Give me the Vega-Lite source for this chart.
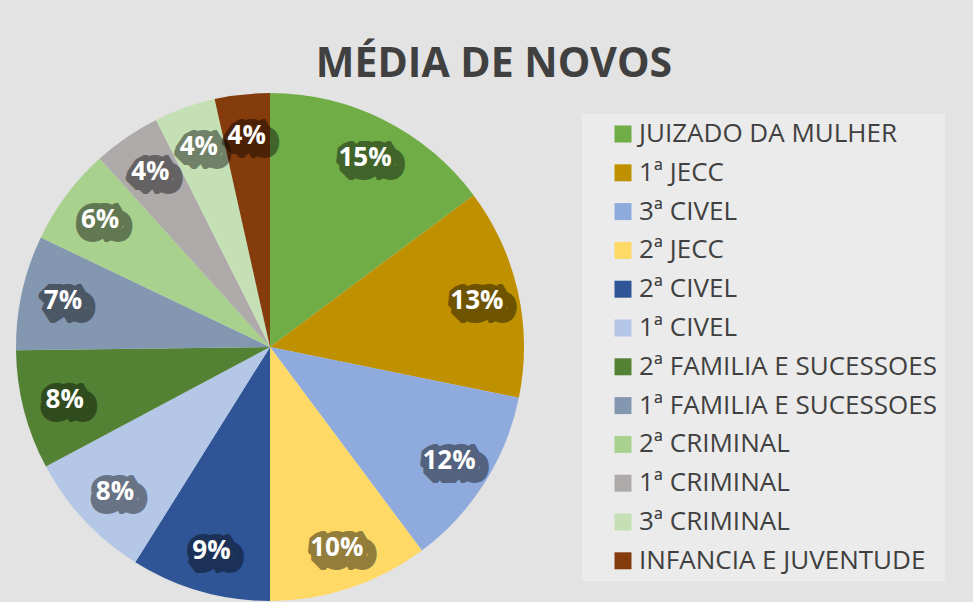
{
  "$schema": "https://vega.github.io/schema/vega-lite/v6.json",
  "width": 508,
  "height": 508,
  "autosize": {"type": "none"},
  "padding": {"left": 16, "top": 93, "right": 449, "bottom": 1},
  "background": "#e3e3e3",
  "title": {
    "text": "MÉDIA DE NOVOS",
    "font": "Open Sans",
    "fontWeight": "bold",
    "fontSize": 41,
    "color": "#404040",
    "anchor": "middle",
    "frame": "group",
    "baseline": "alphabetic",
    "offset": -25,
    "dx": 224
  },
  "data": {
    "values": [
      {"vara": "JUIZADO DA MULHER", "share": 0.148},
      {"vara": "1ª JECC", "share": 0.134},
      {"vara": "3ª CIVEL", "share": 0.116},
      {"vara": "2ª JECC", "share": 0.102},
      {"vara": "2ª CIVEL", "share": 0.089},
      {"vara": "1ª CIVEL", "share": 0.083},
      {"vara": "2ª FAMILIA E SUCESSOES", "share": 0.076},
      {"vara": "1ª FAMILIA E SUCESSOES", "share": 0.073},
      {"vara": "2ª CRIMINAL", "share": 0.062},
      {"vara": "1ª CRIMINAL", "share": 0.043},
      {"vara": "3ª CRIMINAL", "share": 0.039},
      {"vara": "INFANCIA E JUVENTUDE", "share": 0.035}
    ]
  },
  "encoding": {
    "theta": {"field": "share", "type": "quantitative", "stack": true},
    "order": {"field": "share", "type": "quantitative", "sort": "descending"}
  },
  "layer": [
    {
      "mark": {"type": "arc", "stroke": null},
      "encoding": {
        "color": {
          "field": "vara",
          "type": "nominal",
          "sort": null,
          "scale": {
            "domain": ["JUIZADO DA MULHER", "1ª JECC", "3ª CIVEL", "2ª JECC", "2ª CIVEL", "1ª CIVEL", "2ª FAMILIA E SUCESSOES", "1ª FAMILIA E SUCESSOES", "2ª CRIMINAL", "1ª CRIMINAL", "3ª CRIMINAL", "INFANCIA E JUVENTUDE"],
            "range": ["#70AD47", "#BF9000", "#8FAADC", "#FFD966", "#2F5597", "#B4C7E7", "#548235", "#8497B0", "#A9D18E", "#AEAAAA", "#C5E0B4", "#843C0C"]
          },
          "legend": {
            "title": null,
            "orient": "none",
            "legendX": 566,
            "legendY": 21,
            "padding": 7,
            "fillColor": "rgba(255,255,255,0.3)",
            "symbolType": "square",
            "symbolSize": 289,
            "symbolStrokeWidth": 0,
            "symbolOffset": 21,
            "labelFont": "Open Sans",
            "labelFontSize": 26,
            "labelColor": "#404040",
            "labelOffset": 3,
            "labelLimit": 400,
            "rowPadding": 12.8
          }
        }
      }
    },
    {
      "mark": {
        "type": "text",
        "radius": 212,
        "dx": 4,
        "dy": 4,
        "font": "Open Sans",
        "fontWeight": "bold",
        "fontSize": 26,
        "align": "center",
        "baseline": "middle",
        "fill": "black",
        "stroke": "black",
        "strokeWidth": 20,
        "strokeJoin": "bevel",
        "opacity": 0.42
      },
      "encoding": {
        "text": {"field": "share", "type": "quantitative", "format": ".0%"}
      }
    },
    {
      "mark": {
        "type": "text",
        "radius": 212,
        "font": "Open Sans",
        "fontWeight": "bold",
        "fontSize": 26,
        "align": "center",
        "baseline": "middle",
        "fill": "white"
      },
      "encoding": {
        "text": {"field": "share", "type": "quantitative", "format": ".0%"}
      }
    }
  ]
}
